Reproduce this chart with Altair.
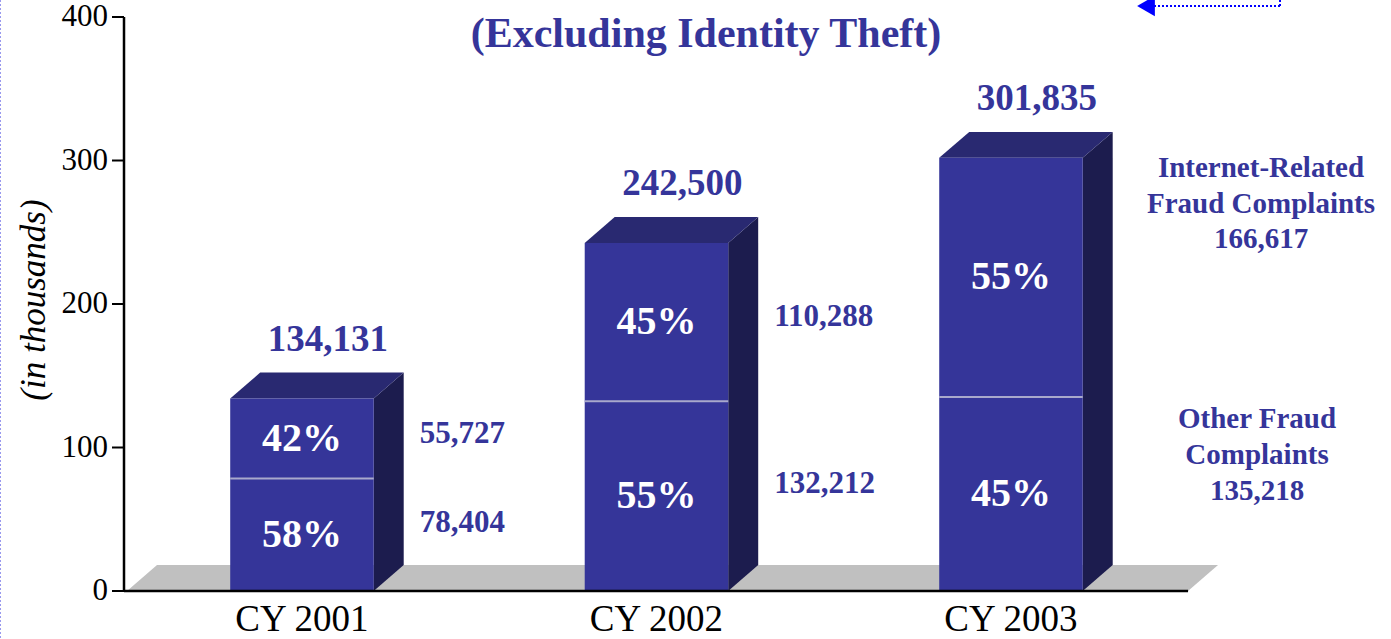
import altair as alt
import pandas as pd

# ---------------- data ----------------
categories = ["CY 2001", "CY 2002", "CY 2003"]
other_vals = [78.404, 132.212, 135.218]        # thousands
internet_vals = [55.727, 110.288, 166.617]     # thousands
total_vals = [134.131, 242.500, 301.835]       # thousands
other_pct = ["58%", "55%", "45%"]
internet_pct = ["42%", "45%", "55%"]
other_labels = ["78,404", "132,212", "135,218"]
internet_labels = ["55,727", "110,288", "166,617"]
total_labels = ["134,131", "242,500", "301,835"]
side_label_shown = [True, True, False]         # CY 2003 is labelled on the far right
y_ticks = [0, 100, 200, 300, 400]
series_internet = "Internet-Related\nFraud Complaints"
series_other = "Other Fraud\nComplaints"
title_text = "(Excluding Identity Theft)"
y_title = "(in thousands)"

# ---------------- style / geometry ----------------
SERIF = "Liberation Serif, Times New Roman, serif"
FRONT = "#353599"
TOPC = "#292971"
SIDEC = "#1c1c4e"
SEP = "#a9a9cc"
FLOOR = "#c0c0c0"
TXT = "#35359a"

W, H = 1391, 639
X_DOM = [-0.8518, 3.0720]     # whole canvas in category units
Y_DOM = [-33.45, 411.85]      # whole canvas in thousands
X_AXIS = -0.502               # where the value axis stands
HALF = 0.2024                 # half bar width
DX = 0.0846                   # 3-D depth, horizontal
DY = 18.1                     # 3-D depth, vertical
TICK = 0.0339                 # tick length (12 px)
FLOOR_L, FLOOR_R = -0.4935, 2.4995

xs = alt.Scale(domain=X_DOM, nice=False, zero=False)
ys = alt.Scale(domain=Y_DOM, nice=False, zero=False)


def X(f, **kw):
    return alt.X(f, scale=xs, axis=None, **kw)


def Y(f, **kw):
    return alt.Y(f, scale=ys, axis=None, **kw)


# ---------------- tables built from the arrays ----------------
seg_rows, top_rows, side_rows, cat_rows = [], [], [], []
for i, c in enumerate(categories):
    o, t = other_vals[i], total_vals[i]
    seg_rows.append(dict(cat=c, seg="other", xl=i - HALF, xr=i + HALF, xc=i,
                         lo=0.0, hi=o, mid=o / 2, pct=other_pct[i],
                         val=other_labels[i], show=side_label_shown[i]))
    seg_rows.append(dict(cat=c, seg="internet", xl=i - HALF, xr=i + HALF, xc=i,
                         lo=o, hi=t, mid=(o + t) / 2, pct=internet_pct[i],
                         val=internet_labels[i], show=side_label_shown[i]))
    top_rows.append(dict(cat=c, y=t, xa=i - HALF, xb=i + HALF))
    top_rows.append(dict(cat=c, y=t + DY, xa=i - HALF + DX, xb=i + HALF + DX))
    side_rows.append(dict(cat=c, x=i + HALF, y=0.0, y2=t))
    side_rows.append(dict(cat=c, x=i + HALF + DX, y=DY, y2=t + DY))
    cat_rows.append(dict(cat=c, xc=i, xl=i - HALF, xr=i + HALF, other=o,
                         top=t + DY, total=total_labels[i], zero=0.0))

seg_df = pd.DataFrame(seg_rows)
top_df = pd.DataFrame(top_rows)
side_df = pd.DataFrame(side_rows)
cat_df = pd.DataFrame(cat_rows)
floor_df = pd.DataFrame([dict(y=0.0, xa=FLOOR_L, xb=FLOOR_R),
                         dict(y=DY, xa=FLOOR_L + DX, xb=FLOOR_R + DX)])
base_df = pd.DataFrame([dict(xa=X_AXIS, xb=FLOOR_R, y=0.0)])
tick_df = pd.DataFrame(dict(v=y_ticks, lab=[str(v) for v in y_ticks],
                            xa=[X_AXIS - TICK] * len(y_ticks), xb=[X_AXIS] * len(y_ticks)))
axis_df = pd.DataFrame([dict(x=X_AXIS, y0=min(y_ticks), y1=max(y_ticks))])
ann_df = pd.DataFrame([
    dict(label=f"{series_internet}\n{internet_labels[2]}", which="internet"),
    dict(label=f"{series_other}\n{other_labels[2]}", which="other"),
])
one = pd.DataFrame({"k": [0]})

# ---------------- layers ----------------
floor = alt.Chart(floor_df).mark_area(orient="horizontal", color=FLOOR).encode(
    y=Y("y:Q"), x=X("xa:Q", stack=None), x2="xb:Q")

side = alt.Chart(side_df).mark_area(orient="vertical", color=SIDEC).encode(
    x=X("x:Q"), y=Y("y:Q", stack=None), y2="y2:Q", detail="cat:N")

top = alt.Chart(top_df).mark_area(orient="horizontal", color=TOPC).encode(
    y=Y("y:Q"), x=X("xa:Q", stack=None), x2="xb:Q", detail="cat:N")

front = alt.Chart(seg_df).mark_rect(color=FRONT).encode(
    x=X("xl:Q"), x2="xr:Q", y=Y("lo:Q"), y2="hi:Q")

sep = alt.Chart(cat_df).mark_rule(color=SEP, strokeWidth=2).encode(
    x=X("xl:Q"), x2="xr:Q", y=Y("other:Q"))

baseline = alt.Chart(base_df).mark_rule(color="black", strokeWidth=2.5).encode(
    x=X("xa:Q"), x2="xb:Q", y=Y("y:Q"))

# value axis (domain line, ticks, labels, title)
ax_line = alt.Chart(axis_df).mark_rule(color="black", strokeWidth=2.5).encode(
    x=X("x:Q"), y=Y("y0:Q"), y2="y1:Q")
ax_ticks = alt.Chart(tick_df).mark_rule(color="black", strokeWidth=2).encode(
    x=X("xa:Q"), x2="xb:Q", y=Y("v:Q"))
ax_labels = alt.Chart(tick_df).mark_text(font=SERIF, fontSize=31, color="black",
                                         align="right", baseline="middle", dx=-16).encode(
    x=X("xb:Q"), y=Y("v:Q"), text="lab:N")
ax_title = alt.Chart(one).mark_text(font=SERIF, fontSize=35, fontStyle="italic",
                                    color="black", angle=270, align="center",
                                    baseline="alphabetic").encode(
    x=alt.value(45), y=alt.value(300), text=alt.value(y_title))

pct = alt.Chart(seg_df).mark_text(font=SERIF, fontSize=40, fontWeight="bold",
                                  color="white", align="center", baseline="middle").encode(
    x=X("xc:Q"), y=Y("mid:Q"), text="pct:N")

val_other = alt.Chart(seg_df).transform_filter(
    (alt.datum.seg == "other") & alt.datum.show).mark_text(
    font=SERIF, fontSize=31, fontWeight="bold", color=TXT,
    align="left", baseline="middle", dx=46, dy=-12).encode(
    x=X("xr:Q"), y=Y("mid:Q"), text="val:N")

val_int = alt.Chart(seg_df).transform_filter(
    (alt.datum.seg == "internet") & alt.datum.show).mark_text(
    font=SERIF, fontSize=31, fontWeight="bold", color=TXT,
    align="left", baseline="middle", dx=46, dy=-5).encode(
    x=X("xr:Q"), y=Y("mid:Q"), text="val:N")

totals = alt.Chart(cat_df).mark_text(font=SERIF, fontSize=37, fontWeight="bold",
                                     color=TXT, align="center", baseline="alphabetic",
                                     dx=26, dy=-22).encode(
    x=X("xc:Q"), y=Y("top:Q"), text="total:N")

cats = alt.Chart(cat_df).mark_text(font=SERIF, fontSize=37, color="black",
                                   align="center", baseline="alphabetic", dy=40).encode(
    x=X("xc:Q"), y=Y("zero:Q"), text="cat:N")

ann_int = alt.Chart(ann_df).transform_filter(alt.datum.which == "internet").mark_text(
    font=SERIF, fontSize=29, fontWeight="bold", color=TXT, align="center",
    baseline="alphabetic", lineBreak="\n", lineHeight=35.5).encode(
    x=alt.value(1261), y=alt.value(177), text="label:N")

ann_oth = alt.Chart(ann_df).transform_filter(alt.datum.which == "other").mark_text(
    font=SERIF, fontSize=29, fontWeight="bold", color=TXT, align="center",
    baseline="alphabetic", lineBreak="\n", lineHeight=36).encode(
    x=alt.value(1257), y=alt.value(428), text="label:N")

title = alt.Chart(one).mark_text(
    font=SERIF, fontSize=42, fontWeight="bold", color=TXT, align="center",
    baseline="alphabetic").encode(x=alt.value(706), y=alt.value(47), text=alt.value(title_text))

# slide artefacts: dotted left border and the small arrow at the top
border = alt.Chart(one).mark_rule(color="#9999ee", strokeWidth=1, strokeDash=[2, 2]).encode(
    x=alt.value(0.5), y=alt.value(0), y2=alt.value(639))
arrow_line = alt.Chart(one).mark_rule(color="#0000ff", strokeWidth=2, strokeDash=[2, 2]).encode(
    x=alt.value(1154), x2=alt.value(1280), y=alt.value(6))
arrow_up = alt.Chart(one).mark_rule(color="#0000ff", strokeWidth=2, strokeDash=[2, 2]).encode(
    x=alt.value(1280), y=alt.value(0), y2=alt.value(6))
arrow_head = alt.Chart(one).mark_point(shape="triangle-left", filled=True,
                                       color="#0000ff", opacity=1, size=420).encode(
    x=alt.value(1146), y=alt.value(6))

chart = alt.layer(
    floor, side, top, front, sep, baseline, ax_line, ax_ticks, ax_labels, ax_title,
    pct, val_other, val_int, totals, cats, ann_int, ann_oth, title,
    border, arrow_line, arrow_up, arrow_head,
).properties(
    width=W, height=H,
    autosize=alt.AutoSizeParams(type="none"),
    padding=0,
    background="white",
).configure_view(stroke=None)

chart.save("out.html", embed_options={"renderer": "svg", "actions": False})
